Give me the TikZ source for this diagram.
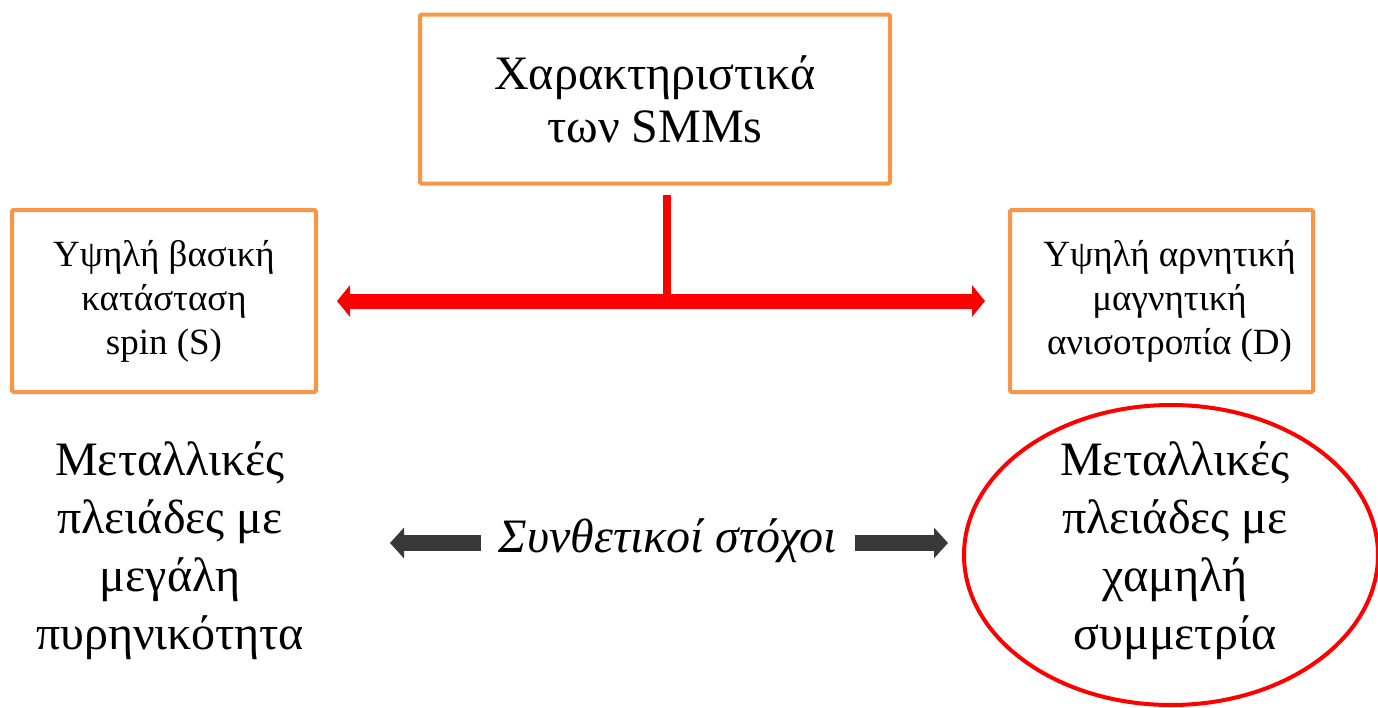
\documentclass[tikz,border=0pt]{standalone}
\usepackage{fontspec}
\setmainfont{Liberation Serif}
\usetikzlibrary{arrows.meta,shapes.geometric,positioning}

\definecolor{boxorange}{RGB}{247,150,70}
\definecolor{arrowgrey}{RGB}{56,56,56}

\begin{document}
\begin{tikzpicture}[x=1pt,y=-1pt,
	orangebox/.style={draw=boxorange,line width=4pt,rounded corners=1.5pt,align=center,inner sep=0pt},
	bigtext/.style={align=center,font=\fontsize{48}{58}\selectfont},
	smalltext/.style={font=\fontsize{37}{44}\selectfont},
	redarrow/.style={red,line width=15pt,{Triangle[width=31pt,length=13pt]}-{Triangle[width=31pt,length=13pt]}},
	greyarrow/.style={arrowgrey,line width=16pt,-{Triangle[width=30pt,length=14pt]}}]
	\useasboundingbox (0,0) rectangle (1378,707);
	% the three boxes
	\node[orangebox,minimum width=470pt,minimum height=169pt,font=\fontsize{48}{53}\selectfont] (top) at (655,99) {Χαρακτηριστικά\\των SMMs};
	\node[orangebox,smalltext,minimum width=304pt,minimum height=182pt] (spin) at (164,301) {Υψηλή βασική\\κατάσταση\\spin (S)};
	\node[orangebox,smalltext,minimum width=303pt,minimum height=182pt] (aniso) at (1161.5,301) {\hspace*{16pt}Υψηλή αρνητική\\\hspace*{16pt}μαγνητική\\\hspace*{16pt}ανισοτροπία (D)};
	% red connector
	\coordinate (stem) at (667,195);
	\coordinate (split) at (667,300);
	\draw[red,line width=8pt] (stem) -- (split);
	\draw[redarrow] ([xshift=19pt]spin.east) -- ([xshift=-23pt]aniso.west);
	% lower row
	\node[bigtext] (nuclear) at (170,551) {Μεταλλικές\\πλειάδες με\\μεγάλη\\πυρηνικότητα};
	\node[draw=red,line width=4pt,ellipse,minimum width=414pt,minimum height=300pt,inner sep=0pt] (symm) at (1171,555) {};
	\node[bigtext] (symmtext) at (1175,551) {Μεταλλικές\\πλειάδες με\\χαμηλή\\συμμετρία};
	\node[font=\fontsize{48}{52}\selectfont\itshape] (goal) at (668,541) {Συνθετικοί στόχοι};
	\coordinate (lefttip) at (390,543);
	\coordinate (righttip) at (948,543);
	\draw[greyarrow] (goal.west |- lefttip) ++(-14,0) -- (lefttip);
	\draw[greyarrow] (goal.east |- righttip) ++(14,0) -- (righttip);
\end{tikzpicture}
\end{document}
